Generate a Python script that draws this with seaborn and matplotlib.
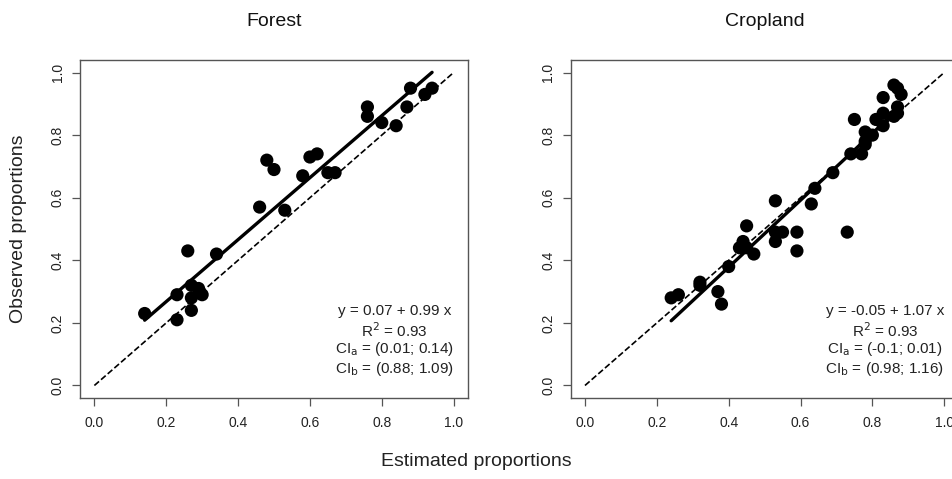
import matplotlib
matplotlib.use('Agg')
import matplotlib.pyplot as plt
import numpy as np
import pandas as pd
import seaborn as sns

# values
forest_est = [0.88, 0.92, 0.94, 0.76, 0.76, 0.80, 0.87, 0.84, 0.48, 0.50,
              0.60, 0.62, 0.58, 0.65, 0.67, 0.46, 0.53, 0.26, 0.34, 0.27,
              0.29, 0.30, 0.23, 0.27, 0.27, 0.23, 0.14]
forest_obs = [0.95, 0.93, 0.95, 0.89, 0.86, 0.84, 0.89, 0.83, 0.72, 0.69,
              0.73, 0.74, 0.67, 0.68, 0.68, 0.57, 0.56, 0.43, 0.42, 0.32,
              0.31, 0.29, 0.29, 0.28, 0.24, 0.21, 0.23]

crop_est = [0.86, 0.87, 0.88, 0.83, 0.87, 0.87, 0.86, 0.83, 0.81, 0.75,
            0.83, 0.78, 0.80, 0.78, 0.78, 0.74, 0.77, 0.69, 0.64, 0.53,
            0.63, 0.45, 0.53, 0.55, 0.59, 0.73, 0.53, 0.59, 0.44, 0.43,
            0.45, 0.47, 0.40, 0.32, 0.32, 0.37, 0.38, 0.24, 0.26]
crop_obs = [0.96, 0.95, 0.93, 0.92, 0.89, 0.87, 0.86, 0.87, 0.85, 0.85,
            0.83, 0.81, 0.80, 0.78, 0.77, 0.74, 0.74, 0.68, 0.63, 0.59,
            0.58, 0.51, 0.49, 0.49, 0.49, 0.49, 0.46, 0.43, 0.46, 0.44,
            0.44, 0.42, 0.38, 0.33, 0.32, 0.30, 0.26, 0.28, 0.29]

panels = [
    ("Forest", forest_est, forest_obs, 0.07, 0.99,
     ["y = 0.07 + 0.99 x", r"R$^2$ = 0.93",
      r"CI$_\mathrm{a}$ = (0.01; 0.14)", r"CI$_\mathrm{b}$ = (0.88; 1.09)"]),
    ("Cropland", crop_est, crop_obs, -0.05, 1.07,
     ["y = -0.05 + 1.07 x", r"R$^2$ = 0.93",
      r"CI$_\mathrm{a}$ = (-0.1; 0.01)", r"CI$_\mathrm{b}$ = (0.98; 1.16)"]),
]
ticks = [0.0, 0.2, 0.4, 0.6, 0.8, 1.0]

sns.set_style('white')
plt.rcParams['font.family'] = ['Liberation Sans', 'DejaVu Sans']

fig = plt.figure(figsize=(9.53, 4.79), dpi=100)
lefts = [80 / 953, 570.6 / 953]

for left, (title, est, obs, a, b, lines) in zip(lefts, panels):
    ax = fig.add_axes([left, 81 / 479, 388 / 953, 338 / 479])
    df = pd.DataFrame({'est': est, 'obs': obs})

    # 1:1 reference line
    ref = pd.DataFrame({'x': [0.0, 1.0], 'y': [0.0, 1.0]})
    sns.lineplot(data=ref, x='x', y='y', ax=ax, color='black', lw=1.2,
                 dashes=(4, 3.5), linestyle='--')

    # fitted line over the range of the data
    xs = np.array([df['est'].min(), df['est'].max()])
    fit = pd.DataFrame({'x': xs, 'y': a + b * xs})
    sns.lineplot(data=fit, x='x', y='y', ax=ax, color='black', lw=2.4)

    sns.scatterplot(data=df, x='est', y='obs', ax=ax, color='black',
                    s=90, edgecolor='none', zorder=3)

    ax.set_xlim(-0.04, 1.04)
    ax.set_ylim(-0.04, 1.04)
    ax.set_xticks(ticks)
    ax.set_yticks(ticks)
    ax.set_xticklabels(['%.1f' % t for t in ticks], fontsize=10, color='#222222')
    ax.set_yticklabels(['%.1f' % t for t in ticks], fontsize=10, color='#222222',
                       rotation=90, va='center')
    ax.tick_params(direction='out', length=6, width=0.9, color='#555555',
                   bottom=True, left=True)
    ax.tick_params(axis='x', pad=7)
    ax.tick_params(axis='y', pad=5)
    ax.set_xlabel('')
    ax.set_ylabel('')
    for sp in ax.spines.values():
        sp.set_color('#555555')
        sp.set_linewidth(1.0)

    for i, t in enumerate(lines):
        ax.text(0.835, 0.237 - i * 0.061, t, ha='center', va='center',
                fontsize=11, color='#222222')

    fig.text(left + 194 / 953, 1 - 21 / 479, title, ha='center', va='center',
             fontsize=14, color='#111111')

fig.text(476 / 953, 1 - 462 / 479, 'Estimated proportions', ha='center',
         va='center', fontsize=14, color='#222222')
fig.text(19 / 953, 1 - 229 / 479, 'Observed proportions', ha='center',
         va='center', rotation=90, fontsize=14, color='#222222')

fig.savefig('out.png', dpi=100)
